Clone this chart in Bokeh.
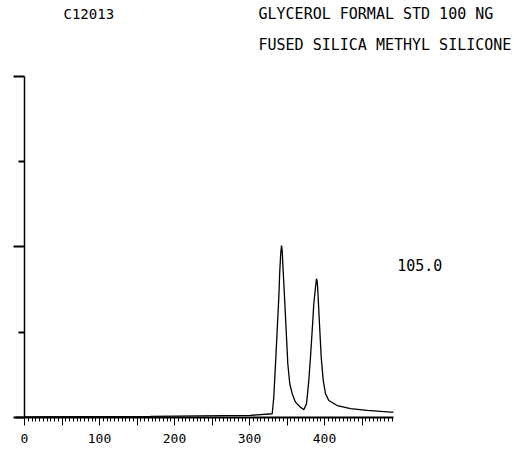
from bokeh.plotting import figure
from bokeh.models import Label, FixedTicker, Range1d, LinearAxis
from bokeh.embed import file_html
from bokeh.resources import INLINE

# chromatogram trace (retention scale units, relative response %)
trace_x = [0, 168, 301, 330.3, 332.4, 334.7, 336.9, 339.1, 340.4, 341.7, 342.7, 343.6,
           344.4, 346.7, 348.9, 351.1, 353.7, 356.9, 361.3, 368.0, 372.4, 376.0, 379.1,
           381.3, 383.6, 385.7, 388.0, 389.3, 390.3, 391.1, 393.3, 395.6, 398.3, 401.3,
           405.7, 416.9, 434.7, 456.9, 488.0, 492.0]
trace_y = [0.15, 0.3, 0.6, 1.1, 6.0, 15.8, 25.5, 35.3, 43.1, 48.4, 50.4, 49.0,
           45.1, 35.3, 25.5, 15.7, 9.9, 7.0, 4.5, 3.0, 2.3, 4.0, 10.9,
           17.7, 25.5, 33.3, 38.2, 40.7, 39.9, 37.2, 27.5, 17.7, 10.9, 7.0,
           5.0, 3.5, 2.6, 2.1, 1.6, 1.6]

x_major = [0, 50, 100, 150, 200, 250, 300, 350, 400, 450]
x_minor = [v for v in range(0, 495, 5)]
x_labels = {0: "0", 100: "100", 200: "200", 300: "300", 400: "400"}
y_major = [0, 50, 100]
y_minor = [25, 75]

run_id = "C12013"
title1 = "GLYCEROL FORMAL STD 100 NG"
title2 = "FUSED SILICA METHYL SILICONE"
scale_text = "105.0"

FONT = "DejaVu Sans Mono"

p = figure(width=514, height=450, output_backend="svg", toolbar_location=None,
           x_range=Range1d(-32, 653.33), y_range=Range1d(-9.68, 122.29),
           x_axis_location=None, y_axis_location=None,
           min_border=0)
p.outline_line_color = None
p.grid.grid_line_color = None
p.background_fill_color = "white"
p.border_fill_color = "white"

p.line(trace_x, trace_y, line_color="black", line_width=1.3)

xa = LinearAxis(fixed_location=0, bounds=(-12, 492))
xa.ticker = FixedTicker(ticks=x_major, minor_ticks=x_minor)
xa.major_label_overrides = {v: x_labels.get(v, "") for v in x_major}
xa.axis_line_width = 2
xa.axis_line_color = "black"
xa.major_tick_out = 8
xa.major_tick_in = 0
xa.minor_tick_out = 4
xa.minor_tick_in = 0
xa.major_tick_line_color = "black"
xa.minor_tick_line_color = "black"
xa.major_label_standoff = 9
xa.major_label_text_font = FONT
xa.major_label_text_font_size = "13px"
xa.major_label_text_color = "black"
p.add_layout(xa, "below")

ya = LinearAxis(fixed_location=0, bounds=(0, 100))
ya.ticker = FixedTicker(ticks=y_major, minor_ticks=y_minor)
ya.major_label_overrides = {v: "" for v in y_major}
ya.axis_line_width = 1.5
ya.axis_line_color = "black"
ya.major_tick_out = 11
ya.major_tick_in = 0
ya.minor_tick_out = 6
ya.minor_tick_in = 0
ya.major_tick_line_width = 2
ya.minor_tick_line_width = 2
ya.major_tick_line_color = "black"
ya.minor_tick_line_color = "black"
ya.major_label_standoff = 0
p.add_layout(ya, "left")

for txt, x, y, size in [(run_id, 52, 118.2, "14px"),
                        (title1, 312, 118.2, "15px"),
                        (title2, 312, 109.1, "15px"),
                        (scale_text, 497, 44.6, "15px")]:
    p.add_layout(Label(x=x, y=y, text=txt, text_font=FONT, text_font_size=size,
                       text_baseline="middle", text_align="left", text_color="black"))

open("out.html", "w").write(file_html(p, INLINE))
